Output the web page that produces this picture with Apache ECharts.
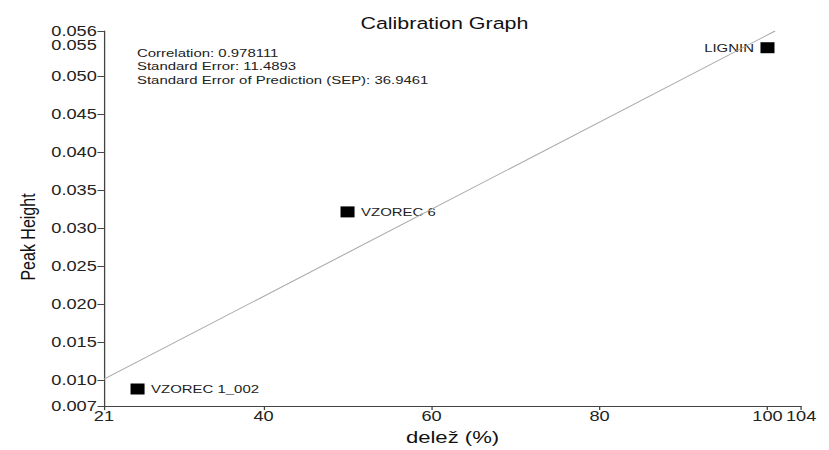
<!DOCTYPE html>
<html>
<head>
<meta charset="utf-8">
<script src="https://cdn.jsdelivr.net/npm/echarts@6/dist/echarts.min.js"></script>
<style>
  html, body { margin: 0; padding: 0; background: #fff; overflow: hidden; }
  /* the original graph is stretched sideways, so draw narrow and widen it */
  #main { width: 638px; height: 450px; transform: scaleX(1.2994); transform-origin: 0 0; }
</style>
</head>
<body>
<div id="main"></div>
<script>
var sampleNames = ['VZOREC 1_002', 'VZOREC 6', 'LIGNIN'];
var sampleX = [25, 50, 100];
var sampleY = [0.0088, 0.0321, 0.0537];
var fitX = [21, 100.9];
var fitY = [0.0101, 0.0559];
var xTicks = [21, 40, 60, 80, 100, 104];
var yTicks = [0.00655, 0.010, 0.015, 0.020, 0.025, 0.030, 0.035, 0.040, 0.045, 0.050, 0.0559];
// 0.056 and 0.055 sit stacked around the 0.055 position in the original
var yLabelValues = [0.00655, 0.010, 0.015, 0.020, 0.025, 0.030, 0.035, 0.040, 0.045, 0.050, 0.055];
var yLabelTexts = ['0.007', '0.010', '0.015', '0.020', '0.025', '0.030', '0.035', '0.040', '0.045', '0.050', '0.056\n0.055'];
var statLines = [
  'Correlation: 0.978111',
  'Standard Error: 11.4893',
  'Standard Error of Prediction (SEP): 36.9461'
];

var chartDom = document.getElementById('main');
var myChart = echarts.init(chartDom, null, { renderer: 'svg' });
var font = 'Liberation Sans, Arial, sans-serif';

var points = sampleNames.map(function (n, i) {
  return {
    value: [sampleX[i], sampleY[i]],
    name: n,
    label: { position: n === 'LIGNIN' ? 'left' : 'right' }
  };
});

var option = {
  animation: false,
  title: {
    text: 'Calibration Graph',
    left: 337,
    textAlign: 'center',
    top: 10,
    textStyle: { fontFamily: font, fontSize: 16.5, fontWeight: 'normal', color: '#111' }
  },
  grid: { left: 80, right: 21.5, top: 31, bottom: 38 },
  xAxis: {
    type: 'value',
    min: 21,
    max: 104,
    name: 'delež (%)',
    nameLocation: 'middle',
    nameGap: 18,
    nameTextStyle: { fontFamily: font, fontSize: 17, color: '#111' },
    splitLine: { show: false },
    axisLine: { lineStyle: { color: '#444', width: 1 } },
    axisTick: { length: 4, customValues: xTicks, lineStyle: { color: '#444' } },
    axisLabel: {
      customValues: xTicks,
      showMinLabel: true,
      showMaxLabel: true,
      hideOverlap: false,
      fontFamily: font,
      fontSize: 14,
      color: '#222',
      margin: 3
    }
  },
  yAxis: {
    type: 'value',
    min: 0.00655,
    max: 0.0559,
    splitLine: { show: false },
    axisLine: { show: true, lineStyle: { color: '#444', width: 1 } },
    axisTick: { show: true, length: 5, customValues: yTicks, lineStyle: { color: '#444' } },
    axisLabel: {
      customValues: yLabelValues,
      showMinLabel: true,
      showMaxLabel: true,
      hideOverlap: false,
      fontFamily: font,
      fontSize: 14,
      lineHeight: 14,
      color: '#222',
      margin: 5.5,
      formatter: function (v) {
        var i = yLabelValues.indexOf(v);
        return i >= 0 ? yLabelTexts[i] : '';
      }
    }
  },
  graphic: statLines.map(function (t, i) {
    return {
      type: 'text',
      left: 105.4,
      top: 47 + i * 13.5,
      style: { text: t, fontFamily: font, fontSize: 11.5, fill: '#222' }
    };
  }).concat([{
    type: 'text',
    x: 21,
    y: 237,
    rotation: Math.PI / 2,
    style: {
      text: 'Peak Height',
      fontFamily: font,
      fontSize: 16,
      fill: '#111',
      align: 'center',
      verticalAlign: 'middle'
    }
  }]),
  series: [
    {
      type: 'line',
      data: fitX.map(function (x, i) { return [x, fitY[i]]; }),
      symbol: 'none',
      lineStyle: { color: '#aaa', width: 1 },
      silent: true
    },
    {
      type: 'scatter',
      data: points,
      symbol: 'rect',
      symbolSize: [10.8, 11],
      itemStyle: { color: '#000', opacity: 1 },
      label: {
        show: true,
        formatter: '{b}',
        fontFamily: font,
        fontSize: 11.5,
        color: '#222',
        distance: 5
      }
    }
  ]
};

option && myChart.setOption(option);
</script>
</body>
</html>
